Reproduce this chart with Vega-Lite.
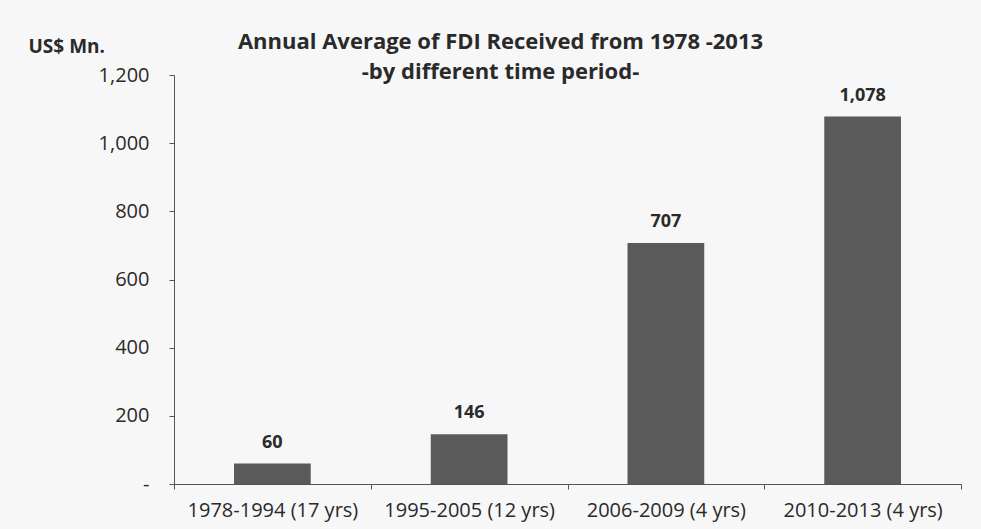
{
  "$schema": "https://vega.github.io/schema/vega-lite/v6.json",
  "autosize": "none",
  "width": 787,
  "height": 409,
  "padding": {"left": 174, "top": 75, "right": 20, "bottom": 45},
  "background": "#f7f7f7",
  "title": {
    "text": ["Annual Average of FDI Received from 1978 -2013", "-by different time period-"],
    "font": "Open Sans",
    "fontSize": 22,
    "fontWeight": "bold",
    "color": "#2a2a2a",
    "lineHeight": 30,
    "anchor": "middle",
    "dx": -67,
    "offset": -47
  },
  "data": {
    "values": [
      {"period": "1978-1994 (17 yrs)", "value": 60},
      {"period": "1995-2005 (12 yrs)", "value": 146},
      {"period": "2006-2009 (4 yrs)", "value": 707},
      {"period": "2010-2013 (4 yrs)", "value": 1078}
    ]
  },
  "encoding": {
    "x": {
      "field": "period",
      "type": "nominal",
      "sort": null,
      "scale": {"paddingInner": 0, "paddingOuter": 0},
      "axis": {
        "title": null,
        "labelAngle": 0,
        "tickBand": "extent",
        "tickSize": 5,
        "tickColor": "#555555",
        "domainColor": "#555555",
        "labelFont": "Open Sans",
        "labelFontSize": 20,
        "labelColor": "#2a2a2a",
        "labelPadding": 11
      }
    },
    "y": {
      "field": "value",
      "type": "quantitative",
      "scale": {"domain": [0, 1200]},
      "axis": {
        "title": "US$ Mn.",
        "titleAngle": 0,
        "titleX": -146,
        "titleY": -29,
        "titleAlign": "left",
        "titleBaseline": "middle",
        "titleFont": "Open Sans",
        "titleFontSize": 19,
        "titleFontWeight": "bold",
        "titleColor": "#2a2a2a",
        "values": [0, 200, 400, 600, 800, 1000, 1200],
        "labelExpr": "datum.value == 0 ? '-' : format(datum.value, ',')",
        "labelFont": "Open Sans",
        "labelFontSize": 20,
        "labelColor": "#2a2a2a",
        "labelPadding": 20,
        "tickSize": 5,
        "tickColor": "#555555",
        "domainColor": "#555555",
        "grid": false
      }
    }
  },
  "layer": [
    {
      "mark": {"type": "bar", "width": {"band": 0.39}, "color": "#5a5a5a"}
    },
    {
      "mark": {"type": "text", "dy": -21, "font": "Open Sans", "fontSize": 18, "fontWeight": "bold", "color": "#2a2a2a"},
      "encoding": {"text": {"field": "value", "type": "quantitative", "format": ","}}
    }
  ],
  "config": {"view": {"stroke": null}}
}
